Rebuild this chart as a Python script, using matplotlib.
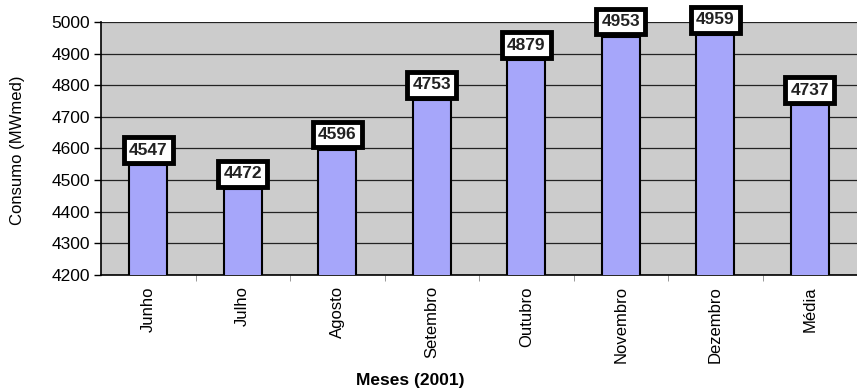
import numpy as np
import matplotlib
matplotlib.use("Agg")
import matplotlib.pyplot as plt

# Consumo mensal (MWmed) - 2001
meses = ["Junho", "Julho", "Agosto", "Setembro", "Outubro", "Novembro", "Dezembro", "Média"]
consumo = [4547, 4472, 4596, 4753, 4879, 4953, 4959, 4737]
y_ticks = [4200, 4300, 4400, 4500, 4600, 4700, 4800, 4900, 5000]

plt.rcParams['font.family'] = ['Liberation Sans', 'DejaVu Sans']

fig = plt.figure(figsize=(8.57, 3.92), dpi=100)
ax = fig.add_axes([101 / 857, 1 - 275 / 392, 1 - 101 / 857, (275 - 22) / 392])
ax.set_facecolor("#CCCCCC")

x = np.arange(len(meses))
ax.bar(x, consumo, width=0.4, color="#A6A6FA", edgecolor="black",
       linewidth=1.5, zorder=3)

# value boxes sitting on top of each bar
for xi, v in zip(x, consumo):
    ax.annotate(str(v), xy=(xi, v), xytext=(0, 5.5), textcoords="offset points",
                ha="center", va="bottom", fontsize=12.5, fontweight="bold",
                color="#222222", zorder=5, annotation_clip=False,
                bbox=dict(boxstyle="square,pad=0.3", facecolor="white",
                          edgecolor="black", linewidth=3.5))

ax.set_ylim(4200, 5000)
ax.set_xlim(-0.5, 7.375)
ax.set_yticks(y_ticks)
ax.set_yticklabels([str(t) for t in y_ticks], fontsize=12.5)
ax.yaxis.grid(True, color="#222222", linewidth=0.9, zorder=0)
ax.set_axisbelow(True)

ax.set_xticks(x)
ax.set_xticklabels(meses, rotation=90, fontsize=12, va="top")
ax.tick_params(axis="x", length=0, pad=8)
ax.set_xticks(np.arange(len(meses)) + 0.5, minor=True)
ax.tick_params(axis="x", which="minor", length=4, color="#888888")
ax.tick_params(axis="y", length=5, width=1, pad=3)

for s in ["top", "right"]:
    ax.spines[s].set_visible(False)
ax.spines["left"].set_linewidth(1.2)
ax.spines["bottom"].set_linewidth(1.2)

fig.text(18 / 857, 1 - 150 / 392, "Consumo (MWmed)", rotation=90,
         ha="center", va="center", fontsize=12)
fig.text(410 / 857, 1 - 381 / 392, "Meses (2001)", ha="center", va="center",
         fontsize=12.5, fontweight="bold")

fig.savefig("out.png", dpi=100)
